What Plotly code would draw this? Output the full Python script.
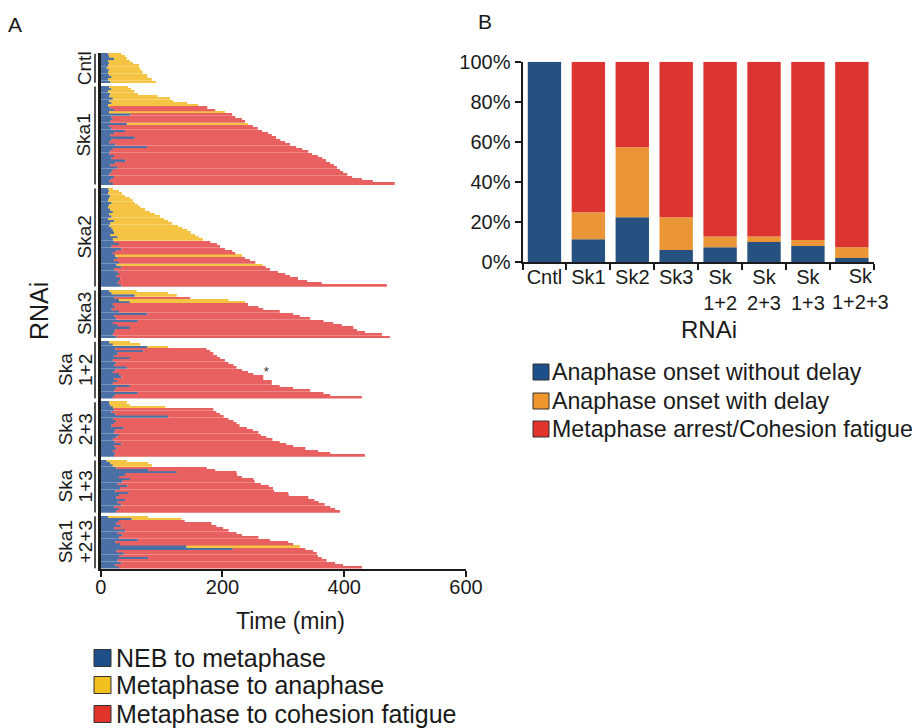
import plotly.graph_objects as go

# ---------------- Panel A data (minutes) ----------------
group_names = ["Cntl", "Ska1", "Ska2", "Ska3", "Ska1+2", "Ska2+3", "Ska1+3", "Ska1+2+3"]
group_label_lines = [["Cntl"], ["Ska1"], ["Ska2"], ["Ska3"], ["Ska", "1+2"], ["Ska", "2+3"],
                     ["Ska", "1+3"], ["Ska1", "+2+3"]]

cntl_blue = [12, 14, 22, 12, 14, 12, 10, 14, 12, 14, 18, 12, 16]
cntl_end = [34, 40, 43, 48, 53, 63, 64, 66, 69, 76, 77, 84, 91]
cntl_fate = "YYYYYYYYYYYYY"

ska1_blue = [14, 18, 12, 16, 14, 20, 14, 18, 12, 16, 22, 14, 49, 18, 20, 16, 43, 14, 18, 40,
             22, 16, 56, 18, 14, 24, 76, 20, 16, 14, 22, 18, 41, 24, 16, 28, 20, 18, 14, 22,
             18, 14, 20]
ska1_end = [45, 50, 55, 61, 93, 114, 119, 142, 160, 175, 188, 204, 216, 221, 232, 237, 242, 250,
            258, 265, 275, 281, 288, 295, 303, 311, 321, 331, 341, 347, 357, 364, 370, 377, 383,
            388, 393, 398, 405, 413, 429, 447, 483]
ska1_fate = "YYYYYYYYYRRYRRRRY" "RRRRRRRRRR" "RRRRRRRRRR" "RRRRRR"

ska2_blue = [12, 14, 12, 16, 14, 12, 18, 14, 12, 16, 20, 14, 18, 12, 22, 16, 14, 18, 20, 22,
             16, 28, 20, 22, 30, 18, 34, 26, 20, 24, 28, 22, 30, 26, 34, 22, 28, 30, 26, 32,
             30, 28, 34]
ska2_end = [20, 30, 35, 40, 48, 53, 56, 61, 65, 73, 81, 89, 97, 104, 111, 117, 127, 134, 142,
            148, 155, 161, 168, 180, 191, 196, 204, 216, 221, 232, 237, 245, 254, 266, 271, 278,
            291, 303, 311, 324, 339, 363, 470]
ska2_fate = "YYYYYYYYYYYYYYYYYYYYYYY" "RRRRRRYRRRYRRRRRRRRR"

ska3_blue = [14, 18, 56, 22, 30, 48, 20, 24, 18, 30, 77, 22, 26, 61, 20, 28, 48, 24, 22, 20, 26]
ska3_end = [59, 111, 125, 147, 210, 237, 242, 259, 267, 294, 316, 327, 344, 366, 382, 396, 415,
            421, 434, 462, 475]
ska3_fate = "YYYRYY" "RRRRRRRRRRRRRRR"

ska12_blue = [14, 20, 77, 24, 70, 28, 22, 48, 20, 26, 22, 43, 24, 20, 30, 34, 22, 28, 20, 48,
              26, 22, 61, 24, 20]
ska12_end = [48, 65, 111, 174, 180, 185, 191, 196, 204, 210, 218, 223, 232, 242, 251, 267, 267,
             281, 281, 294, 316, 344, 366, 377, 429]
ska12_fate = "YYY" "RRRRRRRRRRRRRRRRRRRRRR"

ska23_blue = [14, 16, 20, 22, 18, 24, 111, 20, 26, 22, 18, 38, 24, 22, 30, 26, 20, 24, 34, 22,
              26, 20, 24, 22]
ska23_end = [43, 48, 106, 185, 190, 196, 202, 210, 218, 223, 228, 240, 250, 259, 263, 272, 282,
             294, 305, 316, 336, 357, 377, 434]
ska23_fate = "YYY" "RRRRRRRRRRRRRRRRRRRRR"

ska13_blue = [10, 16, 20, 26, 78, 125, 40, 30, 48, 36, 28, 44, 32, 24, 46, 30, 26, 40, 28, 34,
              22, 30, 26]
ska13_end = [43, 78, 84, 174, 188, 223, 224, 232, 251, 253, 263, 276, 283, 285, 308, 309, 341,
             351, 358, 368, 377, 385, 393]
ska13_fate = "YYY" "RRRRRRRRRRRRRRRRRRRR"

ska123_blue = [12, 51, 30, 26, 34, 22, 40, 28, 36, 30, 61, 24, 32, 141, 217, 26, 38, 30, 78, 28,
               34, 24, 30]
ska123_end = [78, 133, 138, 182, 190, 201, 210, 223, 232, 259, 278, 308, 316, 327, 336, 349, 355,
              357, 363, 371, 385, 398, 429]
ska123_fate = "YYRRRRRRRRRRRYRRRRRRRRR"

star_group = "Ska1+2"
star_row = 15

time_ticks = [0, 200, 400, 600]

# ---------------- Panel B data (percent) ----------------
b_categories = ["Cntl", "Sk1", "Sk2", "Sk3", "Sk 1+2", "Sk 2+3", "Sk 1+3", "Sk 1+2+3"]
b_ticktext = ["Cntl", "Sk1", "Sk2", "Sk3", "Sk<br>1+2", "Sk<br>2+3", "Sk<br>1+3", "Sk<br>1+2+3"]
b_no_delay = [100, 11.5, 22.4, 6.1, 7.5, 10.1, 8.1, 2.2]
b_delay = [0, 13.4, 34.9, 16.3, 5.3, 2.7, 3.0, 5.3]
b_arrest = [0, 75.1, 42.7, 77.6, 87.2, 87.2, 88.9, 92.5]
pct_ticks = [0, 20, 40, 60, 80, 100]

# ---------------- styling ----------------
FONT = "Liberation Sans, Arial, Helvetica, sans-serif"
INK = "#1a1a1a"
W, H = 920, 728
OFF = 8  # page body margin of the rendered html

A_BLUE, A_YEL, A_RED = "#4a70a6", "#f5c443", "#e8605f"
B_BLUE, B_ORG, B_RED = "#25507f", "#ea9536", "#dc3430"
L_BLUE, L_YEL, L_ORG, L_RED = "#1f4f8a", "#f2c01e", "#ef952d", "#e2332d"

def px_x(p):
    return (p - OFF) / W

def px_y(p):
    return 1 - (p - OFF) / H

groups = [
    (cntl_blue, cntl_end, cntl_fate),
    (ska1_blue, ska1_end, ska1_fate),
    (ska2_blue, ska2_end, ska2_fate),
    (ska3_blue, ska3_end, ska3_fate),
    (ska12_blue, ska12_end, ska12_fate),
    (ska23_blue, ska23_end, ska23_fate),
    (ska13_blue, ska13_end, ska13_fate),
    (ska123_blue, ska123_end, ska123_fate),
]

GAP = 1.3
ys_blue, xs_blue = [], []
ys_y, xs_y, base_y = [], [], []
ys_r, xs_r, base_r = [], [], []
group_spans = []
star_xy = None
pos = 0.0
for gi, (blue, end, fate) in enumerate(groups):
    start = pos
    for ri, (b, e, f) in enumerate(zip(blue, end, fate)):
        ys_blue.append(pos)
        xs_blue.append(b)
        if f == "Y":
            ys_y.append(pos); xs_y.append(e - b); base_y.append(b)
        else:
            ys_r.append(pos); xs_r.append(e - b); base_r.append(b)
        if group_names[gi] == star_group and ri == star_row:
            star_xy = (e, pos)
        pos += 1
    group_spans.append((start, pos - 1))
    pos += GAP
ymax = pos - GAP - 1

fig = go.Figure()
BW = 0.86
fig.add_trace(go.Bar(orientation="h", y=ys_blue, x=xs_blue, base=[0] * len(xs_blue),
                     marker=dict(color=A_BLUE, line=dict(width=0)), width=BW,
                     xaxis="x", yaxis="y", showlegend=False, name="NEB to metaphase"))
fig.add_trace(go.Bar(orientation="h", y=ys_y, x=xs_y, base=base_y,
                     marker=dict(color=A_YEL, line=dict(width=0)), width=BW,
                     xaxis="x", yaxis="y", showlegend=False, name="Metaphase to anaphase"))
fig.add_trace(go.Bar(orientation="h", y=ys_r, x=xs_r, base=base_r,
                     marker=dict(color=A_RED, line=dict(width=0)), width=BW,
                     xaxis="x", yaxis="y", showlegend=False, name="Metaphase to cohesion fatigue"))
if star_xy:
    fig.add_trace(go.Scatter(x=[star_xy[0] + 1], y=[star_xy[1] - 1.6], mode="text", text=["*"],
                             textfont=dict(size=13, color="#333", family=FONT),
                             textposition="middle right", xaxis="x", yaxis="y", showlegend=False))

# Panel B stacked via explicit bases
base2 = [a + b for a, b in zip(b_no_delay, b_delay)]
fig.add_trace(go.Bar(x=b_categories, y=b_no_delay, base=[0] * len(b_no_delay), width=0.76,
                     marker=dict(color=B_BLUE, line=dict(width=0)), xaxis="x2", yaxis="y2",
                     showlegend=False))
fig.add_trace(go.Bar(x=b_categories, y=b_delay, base=b_no_delay, width=0.76,
                     marker=dict(color=B_ORG, line=dict(width=0)), xaxis="x2", yaxis="y2",
                     showlegend=False))
fig.add_trace(go.Bar(x=b_categories, y=b_arrest, base=base2, width=0.76,
                     marker=dict(color=B_RED, line=dict(width=0)), xaxis="x2", yaxis="y2",
                     showlegend=False))

# the last category label sits a little right of its bar in the reference -> annotation
axis_ticktext = b_ticktext[:-1] + [""]
n_cat = len(b_categories)

fig.update_layout(
    width=W, height=H, margin=dict(l=0, r=0, t=0, b=0, autoexpand=False),
    paper_bgcolor="white", plot_bgcolor="white", barmode="overlay",
    font=dict(family=FONT, color=INK, size=20),
    xaxis=dict(domain=[px_x(100.7), px_x(466)], range=[0, 600], anchor="y",
               tickvals=time_ticks, ticks="outside", ticklen=6, tickwidth=1.5, tickcolor=INK,
               showline=True, linewidth=2, linecolor=INK, showgrid=False, zeroline=False,
               tickangle=0, automargin=False, ticklabelstandoff=-7,
               tickfont=dict(size=20, family=FONT, color=INK)),
    yaxis=dict(domain=[px_y(569), px_y(53)], range=[ymax + 0.6, -0.6], anchor="x",
               showline=True, linewidth=2.5, linecolor=INK, showgrid=False, zeroline=False,
               showticklabels=False, ticks="", automargin=False),
    xaxis2=dict(domain=[px_x(522.5), px_x(873.8)], anchor="y2", type="category",
                categoryorder="array", categoryarray=b_categories,
                range=[-0.5, n_cat - 0.5], autorange=False,
                tickvals=b_categories, ticktext=axis_ticktext, tickson="boundaries",
                ticks="outside", ticklen=6, tickwidth=1.5, tickcolor=INK, tickangle=0,
                showline=True, linewidth=2, linecolor=INK, showgrid=False, zeroline=False,
                automargin=False, ticklabelstandoff=-4,
                tickfont=dict(size=20, family=FONT, color=INK)),
    yaxis2=dict(domain=[px_y(262.3), px_y(61.7)], anchor="x2", range=[0, 100], autorange=False,
                tickvals=pct_ticks, ticktext=[f"{v}%" for v in pct_ticks],
                ticks="outside", ticklen=6, tickwidth=1.5, tickcolor=INK,
                showline=True, linewidth=2, linecolor=INK, showgrid=False, zeroline=False,
                automargin=False,
                tickfont=dict(size=20, family=FONT, color=INK)),
)

ann = []
shapes = []
ann.append(dict(text=b_ticktext[-1], x=n_cat - 1, xref="x2", xshift=9,
                y=px_y(289.5), yref="paper", showarrow=False,
                font=dict(size=20, family=FONT, color=INK), xanchor="center", yanchor="middle"))
# panel letters
ann.append(dict(text="A", x=px_x(15), y=px_y(24), xref="paper", yref="paper", showarrow=False,
                font=dict(size=21, family=FONT, color=INK), xanchor="center", yanchor="middle"))
ann.append(dict(text="B", x=px_x(485), y=px_y(21), xref="paper", yref="paper", showarrow=False,
                font=dict(size=21, family=FONT, color=INK), xanchor="center", yanchor="middle"))
# axis titles
ann.append(dict(text="RNAi", x=px_x(39), y=px_y(311), xref="paper", yref="paper", showarrow=False,
                textangle=-90, font=dict(size=25, family=FONT, color=INK),
                xanchor="center", yanchor="middle"))
ann.append(dict(text="Time (min)", x=px_x(290), y=px_y(621), xref="paper", yref="paper",
                showarrow=False, font=dict(size=23, family=FONT, color=INK),
                xanchor="center", yanchor="middle"))
ann.append(dict(text="RNAi", x=px_x(709), y=px_y(329), xref="paper", yref="paper",
                showarrow=False, font=dict(size=24, family=FONT, color=INK),
                xanchor="center", yanchor="middle"))

# group labels + brackets
for lines, (s, e) in zip(group_label_lines, group_spans):
    xs_lab = [84] if len(lines) == 1 else [65, 85]
    for txt, xl in zip(lines, xs_lab):
        ann.append(dict(text=txt, x=px_x(xl), y=(s + e) / 2, xref="paper", yref="y",
                        showarrow=False, textangle=-90,
                        font=dict(size=19, family=FONT, color=INK),
                        xanchor="center", yanchor="middle"))
    shapes.append(dict(type="line", xref="paper", yref="y", x0=px_x(95), x1=px_x(95),
                       y0=s - 0.3, y1=e + 0.3, line=dict(color=INK, width=1.5)))

# legend A
legA = [("NEB to metaphase", L_BLUE, 658), ("Metaphase to anaphase", L_YEL, 685),
        ("Metaphase to cohesion fatigue", L_RED, 714)]
for txt, col, yc in legA:
    shapes.append(dict(type="rect", xref="paper", yref="paper", x0=px_x(94), x1=px_x(111),
                       y0=px_y(yc + 8.5), y1=px_y(yc - 8.5), fillcolor=col,
                       line=dict(color="#333", width=1)))
    ann.append(dict(text=txt, x=px_x(114), y=px_y(yc), xref="paper", yref="paper",
                    showarrow=False, font=dict(size=25, family=FONT, color=INK),
                    xanchor="left", yanchor="middle"))
# legend B
legB = [("Anaphase onset without delay", L_BLUE, 372), ("Anaphase onset with delay", L_ORG, 401),
        ("Metaphase arrest/Cohesion fatigue", L_RED, 429)]
for txt, col, yc in legB:
    shapes.append(dict(type="rect", xref="paper", yref="paper", x0=px_x(533), x1=px_x(549),
                       y0=px_y(yc + 8), y1=px_y(yc - 8), fillcolor=col,
                       line=dict(color="#333", width=1)))
    ann.append(dict(text=txt, x=px_x(550), y=px_y(yc), xref="paper", yref="paper",
                    showarrow=False, font=dict(size=23.2, family=FONT, color=INK),
                    xanchor="left", yanchor="middle"))

fig.update_layout(annotations=ann, shapes=shapes)
fig.write_html("out.html")
